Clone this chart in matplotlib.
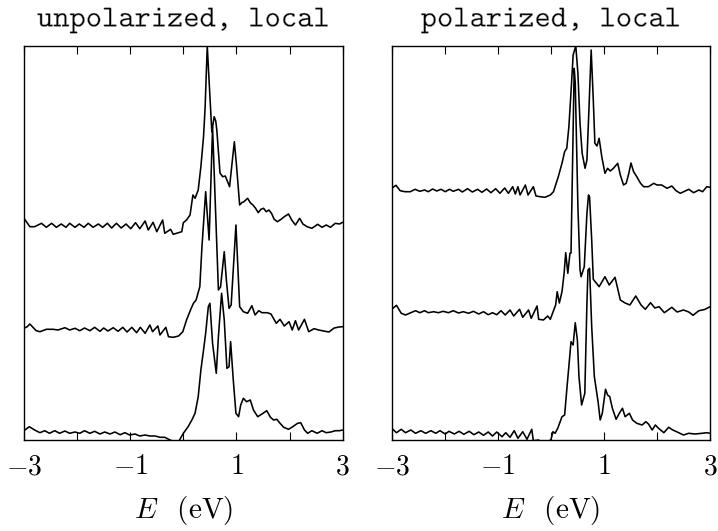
import os
import matplotlib
matplotlib.use("Agg")
import matplotlib.pyplot as plt
from matplotlib import font_manager as fm
from matplotlib import patheffects as pe

# ---------------- data ----------------
titles = ["unpolarized, local", "polarized, local"]
tick_values = [-3, -2, -1, 0, 1, 2, 3]
tick_labels = ["$-3$", "", "$-1$", "", "$1$", "", "$3$"]

# unpolarized, curve 1 (top)
e_unpol_1 = [-3.0, -2.89, -2.80, -2.67, -2.58, -2.48, -2.39, -2.30, -2.21, -2.14, -2.04, -1.96,
             -1.87, -1.79, -1.70, -1.60, -1.52, -1.43, -1.35, -1.26, -1.17, -1.08, -0.99, -0.90,
             -0.82, -0.72, -0.66, -0.57, -0.50, -0.39, -0.35, -0.24, -0.19, -0.03, 0.0, 0.06,
             0.126, 0.18, 0.22, 0.28, 0.33, 0.38, 0.41, 0.45, 0.536, 0.58, 0.61, 0.63, 0.69,
             0.74, 0.79, 0.87, 0.96, 1.00, 1.06, 1.10, 1.14, 1.21, 1.26, 1.31, 1.36, 1.41, 1.46,
             1.51, 1.56, 1.61, 1.66, 1.71, 1.77, 1.84, 1.90, 1.98, 2.04, 2.11, 2.19, 2.25, 2.33,
             2.42, 2.53, 2.61, 2.69, 2.77, 2.86, 2.94, 3.0]
i_unpol_1 = [6.7, -1.7, -1.7, 1.7, -2.3, 1.7, -2.3, 1.0, -2.3, 1.7, -2.3, 1.0,
             -2.3, 1.7, -2.3, 1.0, -2.3, 1.7, -3.0, 1.7, -3.0, 1.0, -3.7, 2.3,
             -3.7, 4.0, -5.0, 2.7, -6.7, 5.0, -8.3, -4.3, -9.3, -6.7, 2.3, 5.0,
             10.0, 30.0, 26.7, 35.0, 58.3, 88.3, 118.0, 179.0, 93.0, 108.3, 104.0, 95.0, 52.0,
             48.3, 49.0, 38.3, 83.3, 60.0, 20.0, 22.3, 23.3, 26.7, 22.3, 20.0, 16.7, 12.3, 15.7,
             16.7, 13.3, 15.0, 11.7, 5.7, 3.3, 5.7, 8.3, 11.0, 5.0, 0.0, 6.7, 1.0, -1.7,
             -3.3, 0.7, -2.3, 0.0, -2.3, 1.7, 1.0, 2.7]

# unpolarized, curve 2 (middle)
e_unpol_2 = [-3.0, -2.94, -2.89, -2.77, -2.70, -2.58, -2.45, -2.36, -2.23, -2.14, -2.04, -1.95,
             -1.86, -1.76, -1.67, -1.57, -1.50, -1.42, -1.32, -1.23, -1.14, -1.06, -0.97, -0.88,
             -0.81, -0.72, -0.63, -0.58, -0.48, -0.44, -0.33, -0.28, -0.19, -0.09, -0.01, 0.06,
             0.14, 0.19, 0.24, 0.31, 0.35, 0.42, 0.485, 0.55, 0.66, 0.70, 0.77, 0.81, 0.86, 0.90,
             0.99, 1.06, 1.13, 1.21, 1.29, 1.35, 1.42, 1.48, 1.58, 1.65, 1.75, 1.82, 1.90, 1.99,
             2.05, 2.11, 2.17, 2.28, 2.36, 2.46, 2.55, 2.64, 2.74, 2.84, 2.93, 3.0]
i_unpol_2 = [0.7, 2.3, 5.0, -1.7, -2.7, -0.3, -0.3, -1.0, 1.3, -1.0, 0.7, -1.7,
             1.0, -1.7, 1.7, -2.3, 1.0, -2.0, 1.3, -2.3, 1.7, -3.0, 1.7, -3.7,
             1.7, -4.3, 4.0, -2.7, 3.0, -6.0, 1.7, -7.7, -8.3, -7.0, -2.7, 9.0,
             19.7, 25.7, 29.0, 42.3, 82.0, 137.3, 89.0, 201.7, 39.0, 42.0, 77.3, 49.0, 20.7, 24.0,
             104.0, 22.3, 17.3, 15.7, 23.3, 14.0, 18.3, 16.3, 16.3, 15.0, 5.7, 9.7, 3.0, 7.3,
             -1.0, 8.3, -1.0, 9.7, -2.7, 0.3, -1.0, -2.0, -3.0, 1.0, 2.0, 2.3]

# unpolarized, curve 3 (bottom)
e_unpol_3 = [-3.0, -2.90, -2.80, -2.70, -2.61, -2.52, -2.42, -2.33, -2.23, -2.14, -2.04, -1.95,
             -1.86, -1.76, -1.67, -1.57, -1.48, -1.38, -1.29, -1.19, -1.10, -1.01, -0.91, -0.82,
             -0.72, -0.63, -0.53, -0.44, -0.35, -0.25, -0.16, -0.08, 0.0, 0.09, 0.16, 0.22, 0.28,
             0.33, 0.38, 0.42, 0.47, 0.50, 0.55, 0.62, 0.66, 0.72, 0.77, 0.82, 0.86, 0.89, 0.94,
             0.99, 1.04, 1.08, 1.13, 1.19, 1.26, 1.32, 1.40, 1.48, 1.57, 1.64, 1.70, 1.76, 1.82,
             1.89, 1.98, 2.06, 2.15, 2.21, 2.28, 2.34, 2.42, 2.52, 2.61, 2.69, 2.78, 2.86, 2.94, 3.0]
i_unpol_3 = [1.3, 5.3, 2.0, -0.7, 1.3, -1.3, 1.3, -1.3, 1.0, -1.3, 0.0, -1.3,
             1.3, -1.3, 0.7, -2.0, 0.0, -2.0, 0.0, -2.7, -0.7, -3.0, -2.0, -4.0,
             -3.0, -4.0, -4.0, -5.3, -5.3, -8.0, -9.7, -8.7, -1.3, 5.3, 12.0, 18.7, 35.3,
             62.0, 82.0, 98.7, 125.3, 128.7, 88.7, 58.7, 95.3, 138.7, 112.0, 63.7, 65.3, 90.3, 52.0,
             18.7, 15.3, 27.0, 33.7, 30.3, 32.0, 22.0, 15.3, 18.0, 21.3, 14.7, 12.0, 12.7, 8.7,
             4.7, 2.7, 5.3, 8.7, 9.3, 2.0, -1.3, 1.3, -1.3, 1.3, -0.7, 0.0, 1.3, 1.3, 2.0]

# polarized, curve 1 (top)
e_pol_1 = [-3.0, -2.92, -2.84, -2.75, -2.65, -2.56, -2.47, -2.38, -2.31, -2.23, -2.15, -2.07,
           -1.99, -1.91, -1.84, -1.74, -1.67, -1.57, -1.48, -1.38, -1.30, -1.21, -1.13, -1.04,
           -0.96, -0.87, -0.80, -0.72, -0.67, -0.62, -0.58, -0.48, -0.43, -0.33, -0.28, -0.20,
           -0.11, -0.01, 0.05, 0.08, 0.14, 0.21, 0.26, 0.30, 0.34, 0.39, 0.42, 0.47, 0.51, 0.55,
           0.59, 0.645, 0.68, 0.72, 0.76, 0.80, 0.83, 0.87, 0.91, 0.96, 1.02, 1.07, 1.12, 1.18,
           1.26, 1.31, 1.37, 1.42, 1.47, 1.51, 1.56, 1.62, 1.69, 1.75, 1.84, 1.94, 2.0, 2.09,
           2.19, 2.28, 2.36, 2.44, 2.52, 2.60, 2.69, 2.79, 2.86, 2.94, 3.0]
i_pol_1 = [2.7, 5.7, 0.3, -0.7, -0.7, 1.7, -0.3, 1.0, -0.7, 2.0, 0.0, 1.7,
           -0.7, 1.7, -0.3, 1.7, -1.0, 2.3, -1.0, 1.7, -1.3, 2.0, -1.7, 2.3,
           -2.3, 3.0, -2.3, 4.3, -3.0, 4.3, -4.0, 6.0, -4.0, 4.3, -5.0, -5.7,
           -6.3, -4.0, -0.7, 4.3, 14.3, 27.7, 39.3, 42.7, 64.3, 107.7, 136.0, 145.0, 117.7, 67.7,
           37.7, 22.7, 31.0, 84.3, 141.0, 91.0, 47.7, 45.0, 52.7, 34.3, 17.7, 22.7, 20.0, 22.7,
           27.7, 16.0, 6.0, 7.7, 17.7, 28.0, 19.3, 14.3, 7.7, 4.3, 4.3, 7.7, 6.0, 6.0,
           2.7, 5.0, 0.3, -2.3, -0.3, 1.7, -1.7, 1.0, -0.7, 4.3, 3.7]

# polarized, curve 2 (middle)
e_pol_2 = [-3.0, -2.91, -2.82, -2.74, -2.64, -2.55, -2.47, -2.38, -2.31, -2.21, -2.12, -2.03,
           -1.93, -1.84, -1.74, -1.65, -1.55, -1.46, -1.36, -1.27, -1.18, -1.10, -1.02, -0.94,
           -0.86, -0.77, -0.70, -0.59, -0.53, -0.42, -0.37, -0.26, -0.23, -0.14, -0.06, -0.01,
           0.05, 0.09, 0.12, 0.16, 0.21, 0.25, 0.28, 0.32, 0.36, 0.38, 0.44, 0.46, 0.51, 0.55,
           0.57, 0.63, 0.68, 0.71, 0.73, 0.77, 0.80, 0.86, 0.91, 1.02, 1.10, 1.21, 1.31, 1.40,
           1.49, 1.60, 1.70, 1.78, 1.88, 1.96, 2.04, 2.14, 2.28, 2.38, 2.50, 2.60, 2.68, 2.79,
           2.90, 3.0]
i_pol_2 = [3.7, 7.7, -0.3, -2.0, 0.3, 2.3, 0.3, 2.3, 0.3, 1.3, 0.3, 1.7,
           0.3, 2.3, 0.0, 1.3, -0.3, 1.7, -1.0, 1.3, -1.7, 0.3, -1.7, 2.3,
           -2.0, 3.0, -3.0, 3.7, -4.3, 3.0, -5.3, 7.0, -6.3, -7.0, -3.0, -6.3,
           2.3, 8.0, 21.3, 10.0, 21.3, 39.7, 60.3, 39.7, 59.7, 60.0, 244.7, 230.0, 106.3, 43.0,
           36.3, 46.3, 99.7, 118.0, 116.0, 73.0, 33.7, 29.7, 26.3, 36.3, 28.0, 35.7, 13.0, 10.0,
           8.0, 17.0, 8.0, 3.7, 10.3, 5.0, 6.3, 0.3, 5.7, 1.0, 3.0, 1.0, -2.3, 2.3,
           3.5, 6.3]

# polarized, curve 3 (bottom)
e_pol_3 = [-3.0, -2.91, -2.82, -2.74, -2.64, -2.55, -2.45, -2.36, -2.26, -2.17, -2.09, -1.99,
           -1.92, -1.82, -1.73, -1.64, -1.54, -1.45, -1.36, -1.27, -1.18, -1.10, -1.02, -0.92,
           -0.85, -0.77, -0.69, -0.62, -0.53, -0.45, -0.36, -0.33, -0.23, -0.17, -0.08, 0.0,
           0.04, 0.08, 0.13, 0.21, 0.26, 0.30, 0.35, 0.38, 0.42, 0.46, 0.50, 0.53, 0.58, 0.64,
           0.68, 0.70, 0.73, 0.77, 0.82, 0.89, 0.93, 0.97, 1.03, 1.07, 1.11, 1.16, 1.23, 1.29,
           1.35, 1.40, 1.48, 1.54, 1.62, 1.72, 1.79, 1.84, 1.91, 1.97, 2.03, 2.13, 2.22, 2.30,
           2.41, 2.50, 2.60, 2.72, 2.85, 2.94, 3.0]
i_pol_3 = [3.7, -0.7, 2.7, -0.7, 2.0, -1.3, 1.3, -1.3, 1.3, -1.3, 1.3, -2.0,
           0.7, -2.0, 0.7, -2.3, 0.7, -2.7, 0.0, -3.3, 0.0, -4.0, 0.0, -4.7,
           -0.7, -5.3, 1.3, -6.3, 0.3, -7.3, 2.7, -8.7, -8.0, -10.7, -9.7, -8.0,
           0.3, -1.3, 3.7, 15.3, 17.0, 42.0, 72.0, 90.3, 87.0, 109.3, 92.0, 55.3, 27.0, 38.7,
           128.7, 162.0, 163.7, 105.3, 55.3, 30.3, 12.0, 18.7, 42.7, 37.0, 35.3, 23.7, 12.7, 18.7,
           23.7, 15.3, 18.7, 12.0, 8.7, 7.0, 10.3, 8.0, 2.0, 7.0, 3.7, -0.7, 4.7, 2.0,
           -0.7, -3.0, -1.3, -2.0, -1.3, -0.7, -1.3]

unpolarized = [(e_unpol_1, i_unpol_1), (e_unpol_2, i_unpol_2), (e_unpol_3, i_unpol_3)]
polarized = [(e_pol_1, i_pol_1), (e_pol_2, i_pol_2), (e_pol_3, i_pol_3)]

# vertical offsets of the stacked curves (layout)
offsets_unpol = [215, 111, 8]
offsets_pol = [249, 127, 8]

# ---------------- figure ----------------
plt.rcParams["mathtext.fontset"] = "cm"

tt_path = os.path.join(matplotlib.get_data_path(), "fonts", "ttf", "cmtt10.ttf")
if os.path.exists(tt_path):
    title_font = fm.FontProperties(fname=tt_path, size=22.3)
else:
    title_font = fm.FontProperties(family="Liberation Mono", size=20)

W, H = 718, 531
fig = plt.figure(figsize=(W / 100, H / 100), dpi=100)
ax1 = fig.add_axes([24 / W, 91 / H, 318.7 / W, 394 / H])
ax2 = fig.add_axes([391.7 / W, 91 / H, 318.3 / W, 394 / H])

for ax, title, curves, offs in [(ax1, titles[0], unpolarized, offsets_unpol),
                                (ax2, titles[1], polarized, offsets_pol)]:
    for (e, inten), off in zip(curves, offs):
        ax.plot(e, [v + off for v in inten], color="black", lw=1.15,
                solid_joinstyle="round", solid_capstyle="round")
    ax.set_xlim(-3, 3)
    ax.set_ylim(0, 394)
    ax.set_yticks([])
    ax.set_xticks(tick_values)
    ax.set_xticklabels(tick_labels)
    ax.tick_params(axis="x", direction="in", top=True, bottom=True, length=5.5,
                   width=0.8, labelsize=20, pad=9)
    ax.set_xlabel(r"$E\ \ \,\mathrm{(eV)}$", fontsize=21, labelpad=10)
    t = ax.set_title(title, fontproperties=title_font, pad=14, color="black")
    t.set_path_effects([pe.Normal(), pe.Stroke(linewidth=0.35, foreground="white")])
    for s in ax.spines.values():
        s.set_linewidth(1.0)

fig.savefig("out.png", dpi=100)
